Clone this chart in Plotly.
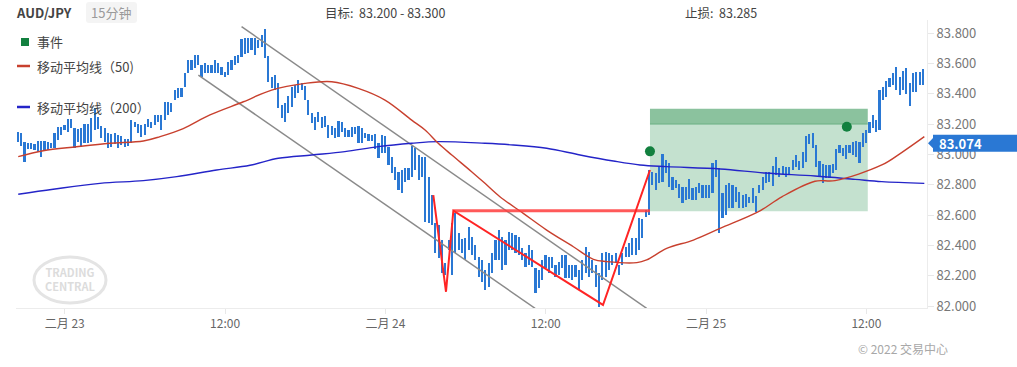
import pandas as pd
import plotly.graph_objects as go

# ---------------- data ----------------
bar_start = "2022-02-22 20:30"
bar_high = [83.150,83.139,83.084,83.073,83.073,83.069,83.091,83.091,83.091,83.084,
            83.077,83.139,83.178,83.178,83.194,83.231,83.231,83.172,83.165,83.172,
            83.200,83.200,83.238,83.304,83.249,83.187,83.172,83.139,83.135,83.143,
            83.128,83.121,83.099,83.099,83.227,83.216,83.200,83.194,83.200,83.231,
            83.216,83.260,83.260,83.260,83.348,83.348,83.337,83.425,83.436,83.436,
            83.534,83.622,83.622,83.655,83.655,83.589,83.600,83.589,83.589,83.622,
            83.605,83.578,83.545,83.611,83.622,83.649,83.655,83.759,83.765,83.765,
            83.765,83.765,83.754,83.787,83.824,83.649,83.512,83.523,83.469,83.326,
            83.337,83.385,83.447,83.458,83.490,83.473,83.451,83.359,83.275,83.244,
            83.282,83.249,83.253,83.194,83.187,83.172,83.220,83.216,83.172,83.161,
            83.178,83.183,83.187,83.172,83.139,83.135,83.128,83.135,83.077,83.128,
            83.121,83.051,82.985,82.919,82.886,82.897,82.908,82.908,83.055,83.040,
            82.996,82.985,82.985,82.853,82.732,82.546,82.535,82.436,82.282,82.436,
            82.546,82.612,82.480,82.440,82.447,82.524,82.458,82.403,82.326,82.304,
            82.238,82.282,82.348,82.436,82.502,82.458,82.436,82.491,82.480,82.469,
            82.458,82.381,82.348,82.403,82.370,82.249,82.238,82.304,82.337,82.326,
            82.326,82.271,82.293,82.337,82.337,82.271,82.271,82.271,82.238,82.304,
            82.392,82.359,82.304,82.271,82.216,82.348,82.359,82.348,82.337,82.348,
            82.271,82.348,82.392,82.418,82.447,82.447,82.579,82.572,82.634,82.897,
            82.886,82.875,82.919,83.003,82.963,82.941,82.853,82.831,82.805,82.787,
            82.787,82.836,82.776,82.787,82.814,82.798,82.798,82.798,82.941,82.963,
            82.908,82.743,82.798,82.809,82.798,82.787,82.754,82.732,82.739,82.721,
            82.776,82.726,82.798,82.853,82.886,82.886,82.924,82.981,82.908,82.924,
            82.919,82.919,82.963,82.996,82.959,83.018,83.121,83.135,83.139,83.062,
            82.959,82.937,82.930,82.930,82.937,83.033,83.062,83.040,83.062,83.062,
            83.084,83.091,83.084,83.139,83.161,83.216,83.260,83.227,83.425,83.447,
            83.486,83.501,83.534,83.578,83.512,83.552,83.567,83.469,83.534,83.545,
            83.545,83.563]
bar_low = [83.084,83.055,82.952,83.033,83.033,83.029,83.018,82.981,83.029,83.029,
           83.040,83.040,83.095,83.128,83.161,83.150,83.172,83.040,83.084,83.051,
           83.073,83.073,83.084,83.161,83.165,83.106,83.084,83.040,83.051,83.069,
           83.040,83.062,83.051,83.055,83.073,83.183,83.139,83.117,83.128,83.183,
           83.172,83.194,83.216,83.161,83.227,83.260,83.282,83.359,83.370,83.376,
           83.447,83.534,83.556,83.567,83.589,83.512,83.534,83.534,83.534,83.534,
           83.534,83.523,83.508,83.523,83.556,83.589,83.600,83.644,83.662,83.666,
           83.688,83.655,83.699,83.710,83.633,83.479,83.436,83.425,83.304,83.238,
           83.216,83.271,83.310,83.370,83.403,83.425,83.359,83.260,83.205,83.161,
           83.216,83.172,83.178,83.106,83.128,83.106,83.117,83.150,83.117,83.113,
           83.117,83.135,83.073,83.073,83.106,83.091,83.091,83.033,82.974,83.011,
           83.011,82.930,82.880,82.831,82.765,82.743,82.820,82.831,82.853,82.897,
           82.831,82.853,82.557,82.546,82.535,82.348,82.315,82.216,82.205,82.370,
           82.205,82.348,82.370,82.348,82.304,82.370,82.337,82.304,82.194,82.161,
           82.106,82.128,82.216,82.304,82.304,82.238,82.271,82.370,82.370,82.348,
           82.337,82.304,82.260,82.271,82.260,82.084,82.117,82.172,82.249,82.216,
           82.249,82.194,82.205,82.249,82.183,82.183,82.172,82.194,82.106,82.172,
           82.216,82.194,82.216,82.128,81.996,82.172,82.194,82.238,82.271,82.282,
           82.205,82.271,82.326,82.326,82.337,82.337,82.370,82.447,82.590,82.601,
           82.798,82.765,82.809,82.820,82.875,82.787,82.765,82.776,82.710,82.677,
           82.699,82.704,82.699,82.699,82.743,82.710,82.710,82.710,82.743,82.853,
           82.480,82.579,82.601,82.645,82.645,82.688,82.645,82.645,82.655,82.677,
           82.677,82.623,82.743,82.765,82.809,82.820,82.792,82.864,82.853,82.871,
           82.853,82.864,82.897,82.919,82.897,82.908,82.952,83.069,83.040,82.919,
           82.853,82.809,82.842,82.842,82.875,82.897,83.007,82.989,82.968,83.007,
           82.996,82.985,82.946,83.051,83.073,83.139,83.172,83.150,83.161,83.359,
           83.381,83.447,83.458,83.425,83.392,83.425,83.398,83.319,83.414,83.414,
           83.458,83.458]

ma50_time = ["2022-02-22 20:31","2022-02-22 22:23","2022-02-23 00:53","2022-02-23 03:23",
             "2022-02-23 05:53","2022-02-23 07:08","2022-02-23 08:52","2022-02-23 10:52",
             "2022-02-23 13:22","2022-02-23 15:29","2022-02-23 17:59","2022-02-23 19:59",
             "2022-02-23 21:58","2022-02-23 23:58","2022-02-24 01:58","2022-02-24 02:58",
             "2022-02-24 03:57","2022-02-24 04:58","2022-02-24 06:27","2022-02-24 07:27",
             "2022-02-24 08:34","2022-02-24 10:19","2022-02-24 12:04","2022-02-24 14:04",
             "2022-02-24 15:34","2022-02-24 16:34","2022-02-24 18:49","2022-02-24 19:33",
             "2022-02-24 21:03","2022-02-24 23:03","2022-02-25 01:03","2022-02-25 03:55",
             "2022-02-25 05:40","2022-02-25 08:09","2022-02-25 09:39","2022-02-25 13:09",
             "2022-02-25 14:38","2022-02-25 16:20"]
ma50_val = [82.985,83.024,83.050,83.073,83.088,83.117,83.170,83.260,83.347,83.424,
            83.468,83.479,83.435,83.358,83.226,83.161,83.073,82.996,82.886,82.809,
            82.721,82.611,82.501,82.391,82.308,82.293,82.286,82.304,82.380,82.435,
            82.512,82.622,82.720,82.823,82.827,82.930,83.012,83.117]

ma200_time = ["2022-02-22 20:31","2022-02-22 23:08","2022-02-23 02:38","2022-02-23 05:53",
              "2022-02-23 08:23","2022-02-23 11:22","2022-02-23 13:52","2022-02-23 15:59",
              "2022-02-23 18:29","2022-02-23 20:58","2022-02-23 23:28","2022-02-24 01:58",
              "2022-02-24 03:57","2022-02-24 07:27","2022-02-24 09:34","2022-02-24 12:04",
              "2022-02-24 14:34","2022-02-24 17:04","2022-02-24 19:03","2022-02-24 21:03",
              "2022-02-25 01:03","2022-02-25 04:25","2022-02-25 08:09","2022-02-25 11:09",
              "2022-02-25 13:09","2022-02-25 16:20"]
ma200_val = [82.737,82.770,82.809,82.827,82.853,82.897,82.928,82.974,82.996,83.018,
             83.051,83.073,83.084,83.073,83.062,83.040,82.996,82.956,82.930,82.919,
             82.904,82.877,82.857,82.835,82.820,82.809]

pattern_time = ["2022-02-24 03:35","2022-02-24 04:32","2022-02-24 05:05",
                "2022-02-24 16:17","2022-02-24 19:48"]
pattern_val = [82.732,82.094,82.629,82.007,82.897]
neck_time = ["2022-02-24 05:05","2022-02-24 19:48"]
neck_val = [82.629,82.629]

chan_up_time = ["2022-02-23 13:14","2022-02-24 19:33"]
chan_up_val = [83.842,81.985]
chan_lo_time = ["2022-02-23 10:00","2022-02-24 11:12"]
chan_lo_val = [83.523,81.985]

event_time = ["2022-02-24 19:48","2022-02-25 10:32"]
event_val = [83.020,83.182]

zone_start, zone_end = "2022-02-24 19:48", "2022-02-25 12:06"
zone_bottom, target_lo, target_hi = 82.625, 83.200, 83.300
last_price = 83.074

y_ticks = [82.0,82.2,82.4,82.6,82.8,83.0,83.2,83.4,83.6,83.8]
x_ticks = ["2022-02-23 00:00","2022-02-23 12:00","2022-02-24 00:00",
           "2022-02-24 12:00","2022-02-25 00:00","2022-02-25 12:00"]
x_tick_text = ["二月 23","12:00","二月 24","12:00","二月 25","12:00"]

# ---------------- figure ----------------
Wd, Ht = 1017, 367
L, R, T, B = 16, 927, 20, 308
PW, PH = R - L, B - T
def px(x): return (x - L) / PW
def py(y): return (B - y) / PH

FONT = "Noto Sans CJK SC, Noto Sans, sans-serif"
times = pd.date_range(bar_start, periods=len(bar_high), freq="15min")
span = [h - l for h, l in zip(bar_high, bar_low)]
BAR_MS = 15 * 60 * 1000

fig = go.Figure()

shapes = [
    dict(type="rect", xref="x", yref="y", x0=zone_start, x1=zone_end, y0=zone_bottom, y1=target_lo,
         fillcolor="#c4e1cf", line_width=0, layer="below"),
    dict(type="rect", xref="x", yref="y", x0=zone_start, x1=zone_end, y0=target_lo, y1=target_hi,
         fillcolor="#8bc29e", line_width=0, layer="below"),
    dict(type="line", xref="x", yref="y", x0=zone_start, x1=zone_end, y0=target_lo, y1=target_lo,
         line=dict(color="#6cb083", width=1), layer="below"),
]

fig.add_trace(go.Scatter(x=chan_up_time, y=chan_up_val, mode="lines",
                         line=dict(color="#8a8a8a", width=1.5), hoverinfo="skip"))
fig.add_trace(go.Scatter(x=chan_lo_time, y=chan_lo_val, mode="lines",
                         line=dict(color="#8a8a8a", width=1.5), hoverinfo="skip"))

fig.add_trace(go.Bar(x=times, y=span, base=bar_low, width=0.5 * BAR_MS,
                     marker=dict(color="#2a78d4", line_width=0), hoverinfo="skip"))

fig.add_trace(go.Scatter(x=ma200_time, y=ma200_val, mode="lines",
                         line=dict(color="#2424c8", width=1.4, shape="spline"), hoverinfo="skip"))
fig.add_trace(go.Scatter(x=ma50_time, y=ma50_val, mode="lines",
                         line=dict(color="#c8402e", width=1.4, shape="spline"), hoverinfo="skip"))

fig.add_trace(go.Scatter(x=neck_time, y=neck_val, mode="lines",
                         line=dict(color="rgba(255,60,60,0.85)", width=3), hoverinfo="skip"))
fig.add_trace(go.Scatter(x=pattern_time, y=pattern_val, mode="lines",
                         line=dict(color="#ff2424", width=2), hoverinfo="skip"))

fig.add_trace(go.Scatter(x=event_time, y=event_val, mode="markers",
                         marker=dict(color="#12803f", size=10), hoverinfo="skip"))

# current price tag
shapes.append(dict(type="path", xref="paper", yref="y",
                   path=f"M {px(928)} {last_price} L {px(934)} {last_price + 0.04} L {px(934)} {last_price - 0.04} Z",
                   fillcolor="#2a78d4", line_width=0))
shapes.append(dict(type="rect", xref="paper", yref="y", x0=px(933), x1=px(1017),
                   y0=last_price - 0.056, y1=last_price + 0.056, fillcolor="#2a78d4", line_width=0))

# legend symbols
shapes.append(dict(type="rect", xref="paper", yref="paper", x0=px(21), x1=px(29), y0=py(46), y1=py(38),
                   fillcolor="#12803f", line_width=0))
shapes.append(dict(type="line", xref="paper", yref="paper", x0=px(17), x1=px(30), y0=py(66), y1=py(66),
                   line=dict(color="#c8402e", width=2.5)))
shapes.append(dict(type="line", xref="paper", yref="paper", x0=px(17), x1=px(30), y0=py(107), y1=py(107),
                   line=dict(color="#2424c8", width=2.5)))

# header pill
shapes.append(dict(type="path", xref="paper", yref="paper",
                   path=(f"M {px(89)} {py(2)} L {px(134)} {py(2)} Q {px(137)} {py(2)} {px(137)} {py(5)} "
                         f"L {px(137)} {py(20)} Q {px(137)} {py(23)} {px(134)} {py(23)} "
                         f"L {px(89)} {py(23)} Q {px(86)} {py(23)} {px(86)} {py(20)} "
                         f"L {px(86)} {py(5)} Q {px(86)} {py(2)} {px(89)} {py(2)} Z"),
                   fillcolor="#f4f4f4", line_width=0))

# watermark
shapes.append(dict(type="circle", xref="paper", yref="paper", x0=px(34), x1=px(106), y0=py(303), y1=py(257),
                   line=dict(color="#e4e4e4", width=3), fillcolor="rgba(0,0,0,0)"))

ann = []
def text(x, y, s, size=13, color="#444", anchor="left", bold=False):
    ann.append(dict(xref="paper", yref="paper", x=px(x), y=py(y), text=f"<b>{s}</b>" if bold else s,
                    showarrow=False, xanchor=anchor, yanchor="middle",
                    font=dict(family=FONT, size=size, color=color)))

text(14, 12, "AUD/JPY", 13, "#444", bold=True)
text(111, 12, "15分钟", 13, "#9a9a9a", anchor="center")
text(323, 12, "目标:  83.200 - 83.300", 12.5, "#444")
text(683, 12, "止损:  83.285", 12.5, "#444")
text(35, 42, "事件", 13, "#444")
text(35, 66, "移动平均线（50)", 13, "#444")
text(35, 107, "移动平均线（200）", 13, "#444")
text(70, 279, "TRADING<br>CENTRAL", 11, "#dcdcdc", anchor="center", bold=True)
text(950, 348, "© 2022 交易中心", 12, "#a8a8a8", anchor="right")
ann.append(dict(xref="paper", yref="y", x=px(937), y=last_price, text="<b>83.074</b>", showarrow=False,
                xanchor="left", yanchor="middle", font=dict(family=FONT, size=13, color="white")))

fig.update_layout(
    width=Wd, height=Ht, margin=dict(l=L, r=Wd - R, t=T, b=Ht - B),
    paper_bgcolor="white", plot_bgcolor="white", showlegend=False,
    barmode="overlay", bargap=0,
    shapes=shapes, annotations=ann,
    font=dict(family=FONT),
    xaxis=dict(type="date", range=["2022-02-22 20:21", "2022-02-25 16:32"],
               tickvals=x_ticks, ticktext=x_tick_text, showgrid=False, zeroline=False,
               showline=True, linecolor="#ececec", ticks="outside", ticklen=5, tickcolor="#e8e8e8",
               tickfont=dict(family=FONT, size=12, color="#666")),
    yaxis=dict(side="right", range=[81.987, 83.886], tickvals=y_ticks,
               ticktext=[f"{v:.3f}" for v in y_ticks], showgrid=False, zeroline=False,
               showline=True, linecolor="#ececec", ticks="outside", ticklen=6, tickcolor="#e8e8e8",
               tickfont=dict(family=FONT, size=13, color="#777")),
)

fig.write_html("out.html")
